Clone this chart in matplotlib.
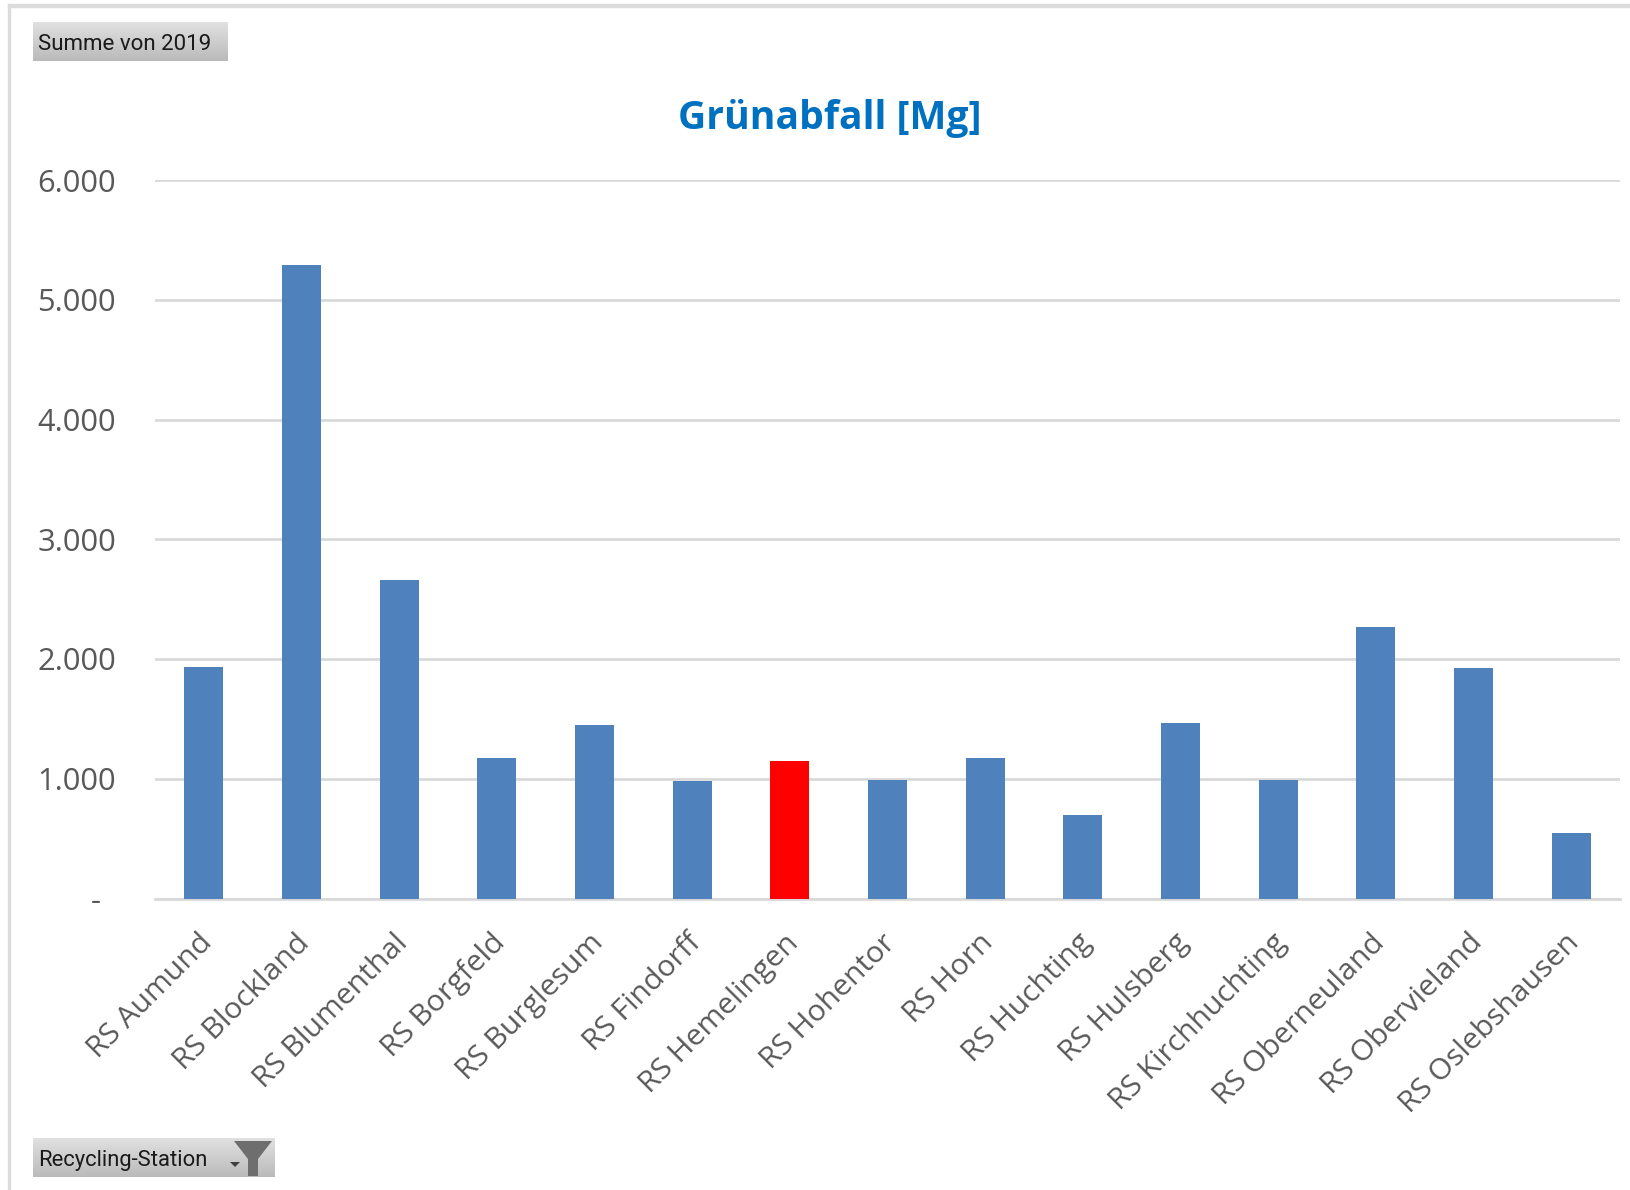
import matplotlib
matplotlib.use("Agg")
import matplotlib.pyplot as plt
import matplotlib.ticker as mticker
import numpy as np
from matplotlib.patches import Polygon, Rectangle
from matplotlib.transforms import ScaledTranslation

W, H = 1631, 1190

stations = ["RS Aumund", "RS Blockland", "RS Blumenthal", "RS Borgfeld", "RS Burglesum",
            "RS Findorff", "RS Hemelingen", "RS Hohentor", "RS Horn", "RS Huchting",
            "RS Hulsberg", "RS Kirchhuchting", "RS Oberneuland", "RS Obervieland",
            "RS Oslebshausen"]
values = [1936, 5288, 2657, 1172, 1450, 981, 1146, 990, 1172, 695, 1467, 990, 2266, 1928, 547]
highlight = "RS Hemelingen"
yticks = [0, 1000, 2000, 3000, 4000, 5000, 6000]

BLUE = "#4f81bd"
RED = "#ff0000"
GRID = "#d9d9d9"
TEXT = "#595959"
TITLE = "#0070c0"

plt.rcParams["font.family"] = ["Open Sans", "DejaVu Sans"]


def fmt_tick(v, _):
    return "-" if v == 0 else f"{int(v):,}".replace(",", ".")


def button(fig, x0, y0, x1, y1):
    # grey pivot-chart button, pixel coords from the top left
    bax = fig.add_axes([x0 / W, 1 - y1 / H, (x1 - x0) / W, (y1 - y0) / H])
    grad = np.linspace(0.88, 0.73, 64).reshape(-1, 1)
    bax.imshow(grad, aspect="auto", cmap="gray", vmin=0, vmax=1)
    bax.axis("off")


fig = plt.figure(figsize=(W / 100, H / 100), dpi=100, facecolor="white")

# outer frame of the screenshot
fig.add_artist(Rectangle((8 / W, -0.01), 2.5 / W, 1 - 4 / H + 0.01, transform=fig.transFigure, color="#dcdcdc"))
fig.add_artist(Rectangle((8 / W, 1 - 6.5 / H), 1, 2.5 / H, transform=fig.transFigure, color="#dcdcdc"))

ax = fig.add_axes([155 / W, 1 - 898.5 / H, 1465 / W, 718.5 / H])
colors = [RED if s == highlight else BLUE for s in stations]
ax.bar(range(len(stations)), values, width=0.4, color=colors, zorder=3)
ax.set_xlim(-0.5, len(stations) - 0.5)
ax.set_ylim(0, 6000)
ax.set_yticks(yticks)
ax.yaxis.set_major_formatter(mticker.FuncFormatter(fmt_tick))
ax.grid(axis="y", color=GRID, linewidth=2, zorder=0)
ax.set_axisbelow(True)
ax.spines[["top", "right", "left"]].set_visible(False)
ax.spines["bottom"].set_color(GRID)
ax.spines["bottom"].set_linewidth(2)
ax.tick_params(axis="y", length=0, labelsize=22.2, labelcolor=TEXT, pad=28)
# the zero label sits further in, as in the accounting number format
zero_lab = ax.get_yticklabels()[0]
zero_lab.set_transform(zero_lab.get_transform() + ScaledTranslation(-15 / 100, 0, fig.dpi_scale_trans))
ax.tick_params(axis="x", length=0)
ax.set_xticks(range(len(stations)))
ax.set_xticklabels(stations, rotation=45, ha="right", va="top", rotation_mode="anchor",
                   fontsize=21.6, color=TEXT)
for lab in ax.get_xticklabels():
    lab.set_transform(lab.get_transform() + ScaledTranslation(-6 / 100, -25 / 100, fig.dpi_scale_trans))

fig.text(830 / W, 1 - 118 / H, "Grünabfall [Mg]", ha="center", va="center",
         fontsize=28.2, fontweight="bold", color=TITLE)

button(fig, 33, 22, 228, 61)
fig.text(38 / W, 1 - 50 / H, "Summe von 2019", ha="left", va="baseline", fontsize=16,
         family="Roboto", color="#1a1a1a")

button(fig, 33, 1138, 275, 1177)
fig.text(38 / W, 1 - 1166 / H, "Recycling-Station", ha="left", va="baseline", fontsize=15.8,
         family="Roboto", color="#1a1a1a")

# funnel and drop-down arrow on the filter button
funnel = [(234, 1141), (272, 1141), (258, 1159), (258, 1176), (248, 1176), (248, 1159)]
arrow = [(230, 1162), (240, 1162), (235, 1167)]
for pts, col in ((funnel, "#6e6e6e"), (arrow, "#404040")):
    fig.add_artist(Polygon([(x / W, 1 - y / H) for x, y in pts], closed=True, transform=fig.transFigure,
                           facecolor=col, edgecolor="none", zorder=5))

fig.savefig("out.png", dpi=100, facecolor="white")
